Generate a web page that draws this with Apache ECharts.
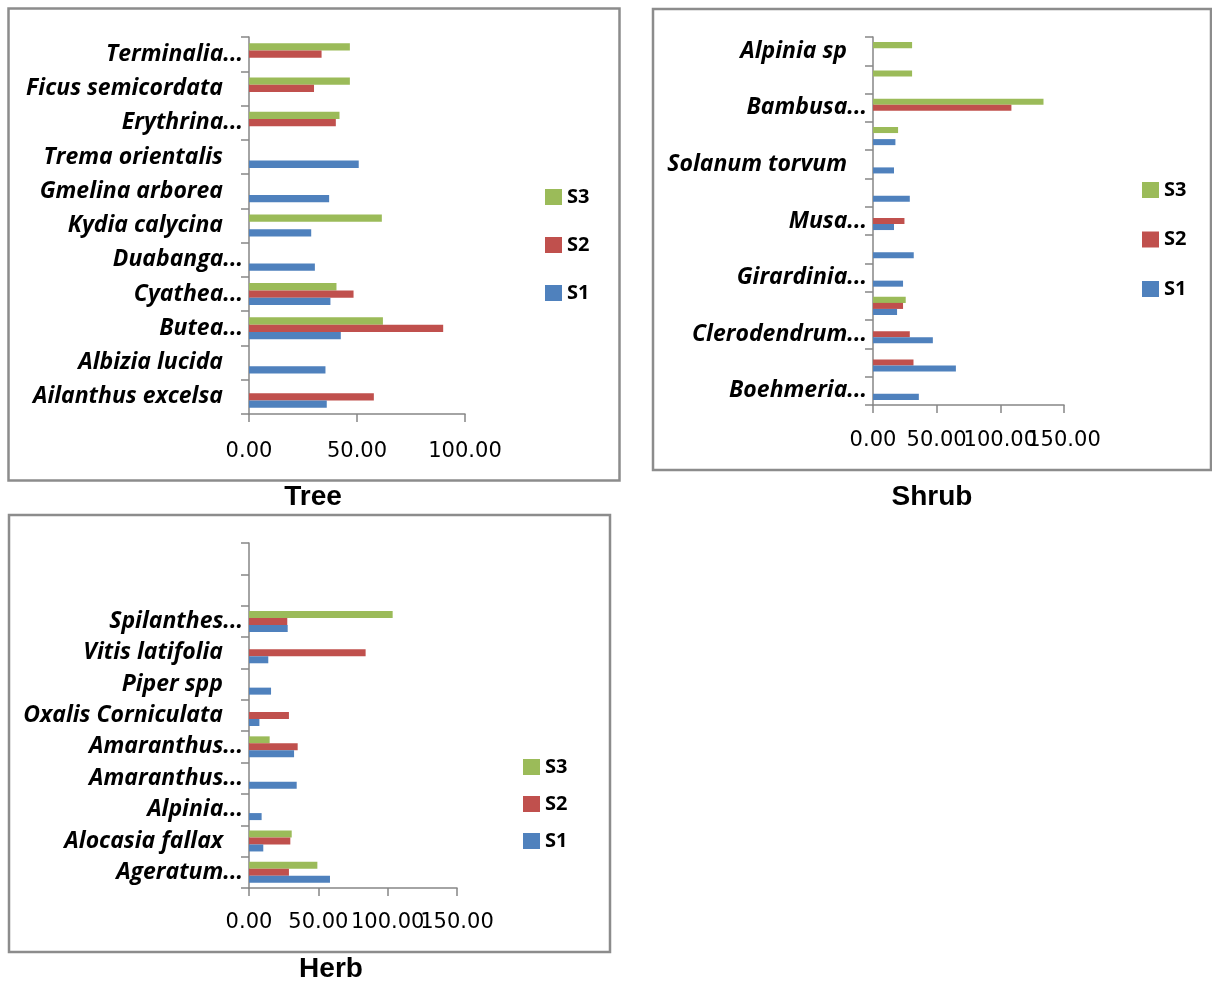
<!DOCTYPE html>
<html><head><meta charset="utf-8">
<script src="https://cdn.jsdelivr.net/npm/echarts@6/dist/echarts.min.js"></script>
<style>html,body{margin:0;padding:0;background:#fff}#c{width:1212px;height:984px}</style>
</head><body><div id="c"></div>
<script>
// ---- data (categories listed bottom to top) ----
const legendOrder = ['S3', 'S2', 'S1'];

const treeCategories = ['Ailanthus excelsa', 'Albizia lucida', 'Butea...', 'Cyathea...', 'Duabanga...', 'Kydia calycina', 'Gmelina arborea', 'Trema orientalis', 'Erythrina...', 'Ficus semicordata', 'Terminalia...'];
const treeS1 = [36.0, 35.4, 42.5, 37.7, 30.5, 28.8, 37.1, 50.8, null, null, null];
const treeS2 = [57.8, null, 89.9, 48.4, null, null, null, null, 40.2, 30.1, 33.6];
const treeS3 = [null, null, 62.0, 40.5, null, 61.5, null, null, 41.9, 46.7, 46.7];
const treeTicks = [0, 50, 100];

const shrubCategories = ['Boehmeria...', '', 'Clerodendrum...', '', 'Girardinia...', '', 'Musa...', '', 'Solanum torvum', '', 'Bambusa...', '', 'Alpinia sp'];
const shrubS1 = [36.0, 65.1, 47.0, 18.9, 23.6, 32.0, 16.5, 28.9, 16.5, 17.6, null, null, null];
const shrubS2 = [null, 31.8, 28.9, 23.6, null, null, 24.7, null, null, null, 108.7, null, null];
const shrubS3 = [null, null, null, 25.7, null, null, null, null, null, 19.7, 133.9, 30.7, 30.7];
const shrubTicks = [0, 50, 100, 150];

const herbCategories = ['Ageratum...', 'Alocasia fallax', 'Alpinia...', 'Amaranthus...', 'Amaranthus...', 'Oxalis Corniculata', 'Piper spp', 'Vitis latifolia', 'Spilanthes...', '', ''];
const herbS1 = [58.4, 10.3, 9.1, 34.4, 32.5, 7.5, 15.9, 13.9, 27.9, null, null];
const herbS2 = [28.8, 29.8, null, null, 35.1, 28.8, null, 84.1, 27.6, null, null];
const herbS3 = [49.3, 30.8, null, null, 14.9, null, null, null, 103.6, null, null];
const herbTicks = [0, 50, 100, 150];

const panelTitles = ['Tree', 'Shrub', 'Herb'];

// ---- styling ----
const COLORS = {S1: '#4F81BD', S2: '#C0504D', S3: '#9BBB59'};
const AXIS_COLOR = '#868686';

const panels = [
  {cats: treeCategories, s: {S1: treeS1, S2: treeS2, S3: treeS3}, ticks: treeTicks,
   grid: {left: 249, top: 37, width: 216, height: 377}, gap: '36%', interval: 0, xMargin: 27,
   legend: {left: 545, top: 187, itemGap: 28},
   box: [8.5, 8.5, 611, 472], title: [313, 497]},
  {cats: shrubCategories, s: {S1: shrubS1, S2: shrubS2, S3: shrubS3}, ticks: shrubTicks,
   grid: {left: 873, top: 37, width: 191, height: 368}, gap: '36%', interval: 1, xMargin: 25,
   legend: {left: 1142, top: 180, itemGap: 29.5},
   box: [653, 9, 558, 461], title: [932, 497]},
  {cats: herbCategories, s: {S1: herbS1, S2: herbS2, S3: herbS3}, ticks: herbTicks,
   grid: {left: 249, top: 543, width: 208, height: 345}, gap: '33%', interval: 0, xMargin: 24,
   legend: {left: 523, top: 757, itemGap: 17},
   box: [9, 515, 601, 437], title: [331, 969]}
];

const grids = [], xAxes = [], yAxes = [], series = [], legends = [], graphics = [];
panels.forEach((p, i) => {
  grids.push(Object.assign({containLabel: false}, p.grid));
  const tmin = p.ticks[0], tmax = p.ticks[p.ticks.length - 1], step = p.ticks[1] - p.ticks[0];
  const labelStyle = {fontFamily: 'DejaVu Sans', fontSize: 21, color: '#000', margin: p.xMargin,
    hideOverlap: false, showMinLabel: true, showMaxLabel: true};
  // main value axis: line, ticks and the even-numbered tick labels
  xAxes.push({
    type: 'value', gridIndex: i, position: 'bottom', min: tmin, max: tmax, interval: step,
    splitLine: {show: false},
    axisLine: {show: true, lineStyle: {color: AXIS_COLOR, width: 1.5}},
    axisTick: {show: true, length: 8, lineStyle: {color: AXIS_COLOR, width: 1.5}},
    axisLabel: Object.assign({}, labelStyle, {
      formatter: v => (Math.round((v - tmin) / step) % 2 === 0) ? v.toFixed(2) : ''})
  });
  // twin axis (same scale) carrying the odd-numbered tick labels, so crowded labels are all kept as in the original
  xAxes.push({
    type: 'value', gridIndex: i, position: 'bottom', min: tmin, max: tmax, interval: step,
    splitLine: {show: false}, axisLine: {show: false}, axisTick: {show: false},
    axisLabel: Object.assign({}, labelStyle, {
      formatter: v => (Math.round((v - tmin) / step) % 2 === 1) ? v.toFixed(2) : ''})
  });
  yAxes.push({
    type: 'category', gridIndex: i, data: p.cats,
    axisLine: {show: true, lineStyle: {color: AXIS_COLOR, width: 1.5}},
    axisTick: {show: true, length: 8, interval: 0, lineStyle: {color: AXIS_COLOR, width: 1.5}},
    axisLabel: {
      interval: p.interval, margin: 6, color: '#000',
      fontFamily: 'Open Sans', fontStyle: 'italic', fontWeight: 'bold', fontSize: 23,
      formatter: name => (name === '' || name.endsWith('...')) ? name : name + '{sp| }',
      rich: {sp: {width: 20}}
    }
  });
  // horizontal bars: first series is drawn at the top of each group, so add S3, S2, S1
  ['S3', 'S2', 'S1'].forEach(nm => {
    series.push({
      type: 'bar', name: nm, xAxisIndex: i * 2, yAxisIndex: i, data: p.s[nm],
      barGap: '0%', barCategoryGap: p.gap,
      itemStyle: {color: COLORS[nm]}, animation: false
    });
  });
  legends.push({
    data: legendOrder, orient: 'vertical', left: p.legend.left, top: p.legend.top,
    itemGap: p.legend.itemGap, itemWidth: 17, itemHeight: 16, icon: 'rect', padding: 0,
    selectedMode: false,
    textStyle: {fontFamily: 'Open Sans', fontWeight: 'bold', fontSize: 20, lineHeight: 20, color: '#000'}
  });
  graphics.push({
    type: 'rect', z: -10, silent: true,
    shape: {x: p.box[0], y: p.box[1], width: p.box[2], height: p.box[3]},
    style: {fill: 'none', stroke: '#8c8c8c', lineWidth: 2.5}
  });
  graphics.push({
    type: 'text', silent: true, x: p.title[0], y: p.title[1],
    style: {text: panelTitles[i], fill: '#000', font: 'bold 28px "Liberation Sans", Arial, sans-serif', textAlign: 'center', textVerticalAlign: 'middle'}
  });
});

const chart = echarts.init(document.getElementById('c'), null, {renderer: 'canvas'});
chart.setOption({
  animation: false,
  grid: grids, xAxis: xAxes, yAxis: yAxes, series: series, legend: legends,
  graphic: graphics
});
</script>
</body></html>
